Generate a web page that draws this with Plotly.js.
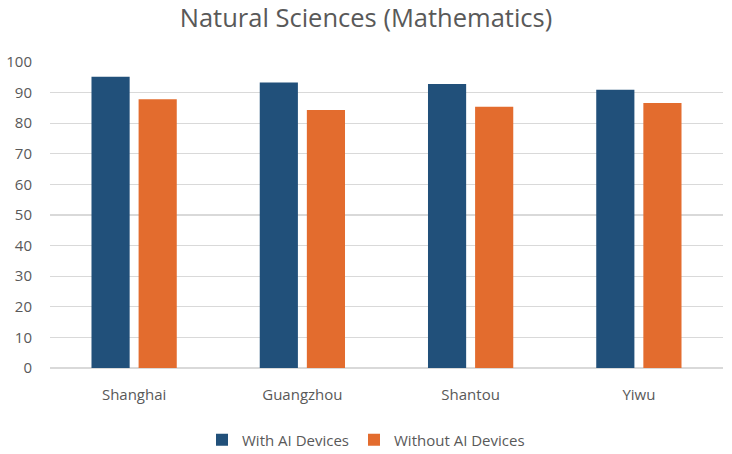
<!DOCTYPE html>
<html>
<head>
<meta charset="utf-8">
<script src="https://cdn.plot.ly/plotly-3.0.1.min.js"></script>
<style>
  html, body { margin: 0; padding: 0; background: #fff; }
  #chart { width: 732px; height: 454px; }
</style>
</head>
<body>
<div id="chart"></div>
<script>
// Average mathematics scores by city, with and without AI devices
const cities = ["Shanghai", "Guangzhou", "Shantou", "Yiwu"];
const withAI = [95.2, 93.3, 92.8, 90.9];
const withoutAI = [87.8, 84.3, 85.4, 86.6];
const yTicks = [0, 10, 20, 30, 40, 50, 60, 70, 80, 90, 100];

const fontFamily = "'Open Sans', 'Liberation Sans', sans-serif";
const textGrey = "#595959";

const traces = [
  {
    type: "bar",
    name: "With AI Devices",
    x: cities,
    y: withAI,
    marker: { color: "#21507A" }
  },
  {
    type: "bar",
    name: "Without AI Devices",
    x: cities,
    y: withoutAI,
    marker: { color: "#E36C2E" }
  }
];

const layout = {
  width: 732,
  height: 454,
  margin: { l: 50, r: 9, t: 62, b: 86, autoexpand: false },
  paper_bgcolor: "#ffffff",
  plot_bgcolor: "#ffffff",
  barmode: "group",
  bargap: 0.44,
  bargroupgap: 0.19,
  title: {
    text: "Natural Sciences (Mathematics)",
    x: 0.5,
    xanchor: "center",
    y: 0.96,
    yanchor: "middle",
    font: { family: fontFamily, size: 25.5, color: textGrey }
  },
  xaxis: {
    type: "category",
    showgrid: false,
    showline: false,
    zeroline: false,
    ticks: "",
    automargin: false,
    ticklabelstandoff: 16,
    tickfont: { family: fontFamily, size: 15, color: textGrey }
  },
  yaxis: {
    range: [0, 100],
    tickvals: yTicks,
    ticktext: yTicks.map(String),
    showgrid: true,
    gridcolor: "#d9d9d9",
    gridwidth: 1.3,
    zeroline: true,
    zerolinecolor: "#d9d9d9",
    zerolinewidth: 1.3,
    showline: false,
    ticks: "",
    automargin: false,
    ticklabelstandoff: 17,
    tickfont: { family: fontFamily, size: 15, color: textGrey }
  },
  legend: {
    orientation: "h",
    x: 0.5,
    xref: "container",
    xanchor: "center",
    y: 0.031,
    yref: "container",
    yanchor: "middle",
    font: { family: fontFamily, size: 15, color: textGrey },
    itemwidth: 30
  },
  showlegend: true
};

Plotly.newPlot("chart", traces, layout, { displayModeBar: false, staticPlot: true });
</script>
</body>
</html>
